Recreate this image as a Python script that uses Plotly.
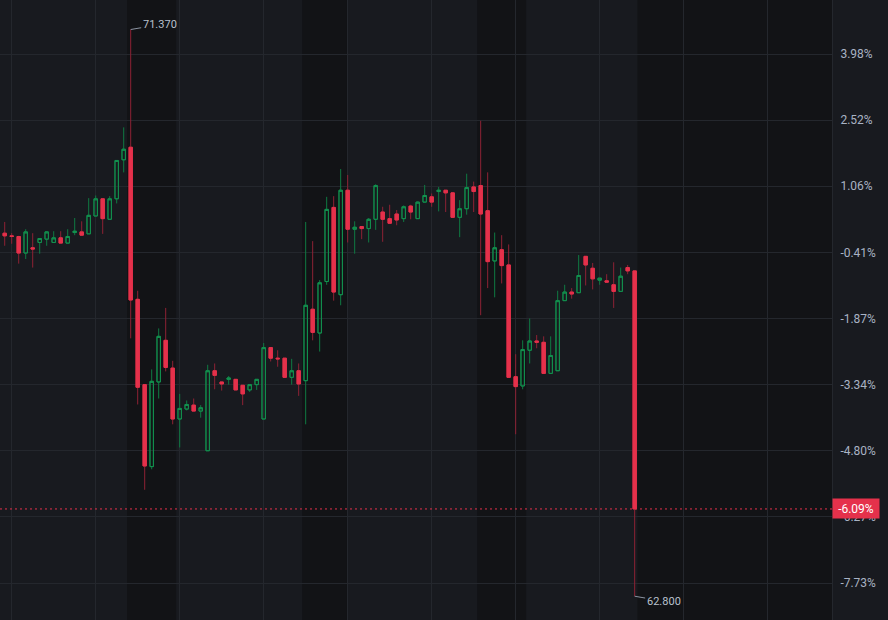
import plotly.graph_objects as go

# ---- data (prices) ----
opens = [68.29, 68.25, 68.24, 67.99, 68.07, 68.15, 68.20, 68.15, 68.22, 68.14,
         68.30, 68.31, 68.28, 68.55, 68.81, 68.50, 68.81, 69.40, 69.59, 67.29,
         66.00, 64.76, 66.04, 66.67, 66.25, 65.48, 65.63, 65.69, 65.60, 65.00,
         66.21, 66.04, 66.08, 66.08, 65.99, 65.92, 66.00, 65.48, 66.56, 66.40,
         66.40, 66.11, 66.21, 66.06, 67.14, 66.78, 67.56, 68.68, 67.36, 68.94,
         68.35, 68.39, 68.36, 68.50, 68.61, 68.51, 68.58, 68.51, 68.70, 68.51,
         68.76, 68.84, 68.92, 68.94, 68.90, 68.53, 68.66, 68.99, 69.01, 68.63,
         67.87, 68.04, 67.81, 66.12, 65.98, 66.52, 66.66, 66.64, 66.17, 66.21,
         67.27, 67.40, 67.39, 67.94, 67.76, 67.58, 67.57, 67.51, 67.41, 67.77,
         67.72]
highs = [68.46, 68.29, 68.25, 68.35, 68.29, 68.21, 68.32, 68.32, 68.32, 68.35,
         68.52, 68.47, 68.82, 68.86, 68.81, 68.85, 69.39, 69.89, 71.37, 67.42,
         66.00, 66.23, 66.85, 67.16, 66.36, 65.86, 65.76, 65.79, 65.69, 66.30,
         66.32, 66.04, 66.13, 66.08, 65.99, 66.00, 66.08, 66.63, 66.56, 66.52,
         66.40, 66.39, 66.32, 68.46, 68.17, 67.58, 68.84, 68.85, 69.26, 69.17,
         68.47, 68.39, 68.52, 69.03, 68.69, 68.72, 68.64, 68.71, 68.72, 68.77,
         69.02, 68.89, 68.99, 68.94, 68.90, 68.79, 69.19, 69.07, 69.99, 69.21,
         68.30, 68.26, 68.12, 66.46, 66.67, 67.00, 66.75, 66.73, 66.73, 67.42,
         67.51, 67.46, 67.96, 67.94, 67.84, 67.61, 67.67, 67.85, 67.77, 67.81,
         67.72]
lows = [68.10, 68.13, 67.83, 67.90, 67.77, 67.98, 68.10, 68.15, 68.14, 68.14,
        68.26, 68.26, 68.28, 68.55, 68.28, 68.50, 68.74, 69.21, 66.70, 65.70,
        64.41, 64.72, 65.79, 66.20, 65.40, 65.05, 65.61, 65.60, 65.50, 65.00,
        65.93, 65.91, 66.00, 65.92, 65.69, 65.89, 65.92, 65.48, 66.35, 66.27,
        66.11, 66.00, 65.83, 65.40, 66.67, 66.50, 67.51, 67.27, 67.20, 68.15,
        67.98, 68.20, 68.15, 68.34, 68.16, 68.44, 68.41, 68.46, 68.50, 68.51,
        68.76, 68.69, 68.62, 68.61, 68.53, 68.23, 68.57, 68.61, 67.05, 67.46,
        67.32, 67.53, 66.11, 65.25, 65.93, 66.32, 66.55, 66.17, 66.17, 66.21,
        67.27, 67.30, 67.39, 67.50, 67.44, 67.51, 67.55, 67.16, 67.41, 67.67,
        62.80]
closes = [68.25, 68.24, 67.99, 68.31, 68.05, 68.21, 68.31, 68.22, 68.14, 68.24,
          68.32, 68.26, 68.56, 68.81, 68.51, 68.81, 69.39, 69.56, 67.28, 65.96,
          64.77, 66.05, 66.73, 66.26, 65.48, 65.64, 65.70, 65.60, 65.65, 66.21,
          66.14, 66.01, 66.10, 65.92, 65.86, 66.00, 66.08, 66.56, 66.40, 66.39,
          66.11, 66.21, 66.01, 67.20, 66.79, 67.54, 68.65, 67.40, 68.94, 68.35,
          68.38, 68.36, 68.50, 69.01, 68.50, 68.44, 68.49, 68.69, 68.61, 68.76,
          68.86, 68.76, 68.94, 68.90, 68.53, 68.66, 68.98, 68.92, 68.58, 67.86,
          68.07, 67.80, 66.11, 65.97, 66.53, 66.66, 66.64, 66.17, 66.44, 67.27,
          67.40, 67.37, 67.65, 67.81, 67.60, 67.61, 67.55, 67.41, 67.64, 67.72,
          64.12]
ref_price = 68.2793                 # previous close used for % axis
price_ticks = [63, 64, 65, 66, 67, 68, 69, 70, 71]
time_ticks = list(range(1, 119, 12))   # hourly grid (bar index)
sessions_ext = [(17.5, 24.5), (42.5, 48.9), (67.5, 74.5), (90.4, 118.5)]

# ---- styles ----
BG = "#181a1f"
BAND = "#121316"
GRID = "#24272d"
RED = "#e5314b"
RED_WICK = "#8e2234"
GREEN = "#13914f"
GREEN_WICK = "#0f7b43"
TXT = "#a9b3c4"

x = list(range(len(opens)))
body_hi = [max(o, c) for o, c in zip(opens, closes)]
body_lo = [min(o, c) for o, c in zip(opens, closes)]

fig = go.Figure()
fig.add_trace(go.Candlestick(
    x=x, open=opens, high=highs, low=lows, close=closes,
    increasing=dict(line=dict(color=GREEN_WICK, width=1), fillcolor="rgba(0,0,0,0)"),
    decreasing=dict(line=dict(color=RED_WICK, width=1), fillcolor=RED_WICK),
    whiskerwidth=0, hoverinfo="skip", showlegend=False))
fig.add_trace(go.Candlestick(
    x=x, open=opens, high=body_hi, low=body_lo, close=closes,
    increasing=dict(line=dict(color=GREEN, width=1), fillcolor="rgba(0,0,0,0)"),
    decreasing=dict(line=dict(color=RED, width=1), fillcolor=RED),
    whiskerwidth=0, hoverinfo="skip", showlegend=False))

for a, b in sessions_ext:
    fig.add_shape(type="rect", xref="x", yref="paper", x0=a, x1=b, y0=0, y1=1,
                  fillcolor=BAND, line=dict(width=0), layer="below")

last = closes[-1]
fig.add_shape(type="line", xref="paper", yref="y", x0=0, x1=1, y0=last, y1=last,
              line=dict(color=RED, width=1, dash="2px,3px"))

pct = lambda p: f"{(p / ref_price - 1) * 100:.2f}%"

fig.add_annotation(xref="paper", yref="y", x=1, y=last, text=pct(last),
                   xanchor="left", yanchor="middle", showarrow=False,
                   bgcolor=RED, font=dict(color="white", size=12, family="Roboto"),
                   width=44, height=17, borderpad=1)

hi = max(highs); hi_i = highs.index(hi)
lo = min(lows); lo_i = lows.index(lo)
fig.add_annotation(x=hi_i, y=hi, text=f"{hi:.3f}", showarrow=True, arrowhead=0,
                   arrowwidth=1, arrowcolor="#8b93a1", ax=29, ay=-5,
                   font=dict(color="#b9c1cd", size=11, family="Roboto"))
fig.add_annotation(x=lo_i, y=lo, text=f"{lo:.3f}", showarrow=True, arrowhead=0,
                   arrowwidth=1, arrowcolor="#8b93a1", ax=29, ay=5,
                   font=dict(color="#b9c1cd", size=11, family="Roboto"))

fig.update_layout(
    width=888, height=620, margin=dict(l=0, r=56, t=0, b=0),
    paper_bgcolor=BG, plot_bgcolor=BG, showlegend=False,
    font=dict(family="Roboto", color=TXT, size=12),
    xaxis=dict(range=[-0.67, 118.19], rangeslider=dict(visible=False),
               tickvals=time_ticks, showticklabels=False, ticks="",
               showgrid=True, gridcolor=GRID, gridwidth=1, zeroline=False,
               showline=False, fixedrange=True),
    yaxis=dict(side="right", range=[62.4405, 71.8166], tickvals=price_ticks,
               ticktext=[pct(p) for p in price_ticks], showgrid=True,
               gridcolor=GRID, gridwidth=1, zeroline=False, showline=True,
               linecolor=GRID, ticks="", ticklabelstandoff=5,
               tickfont=dict(color=TXT, size=12, family="Roboto"), fixedrange=True),
    hovermode=False,
)

fig.write_html("out.html")
